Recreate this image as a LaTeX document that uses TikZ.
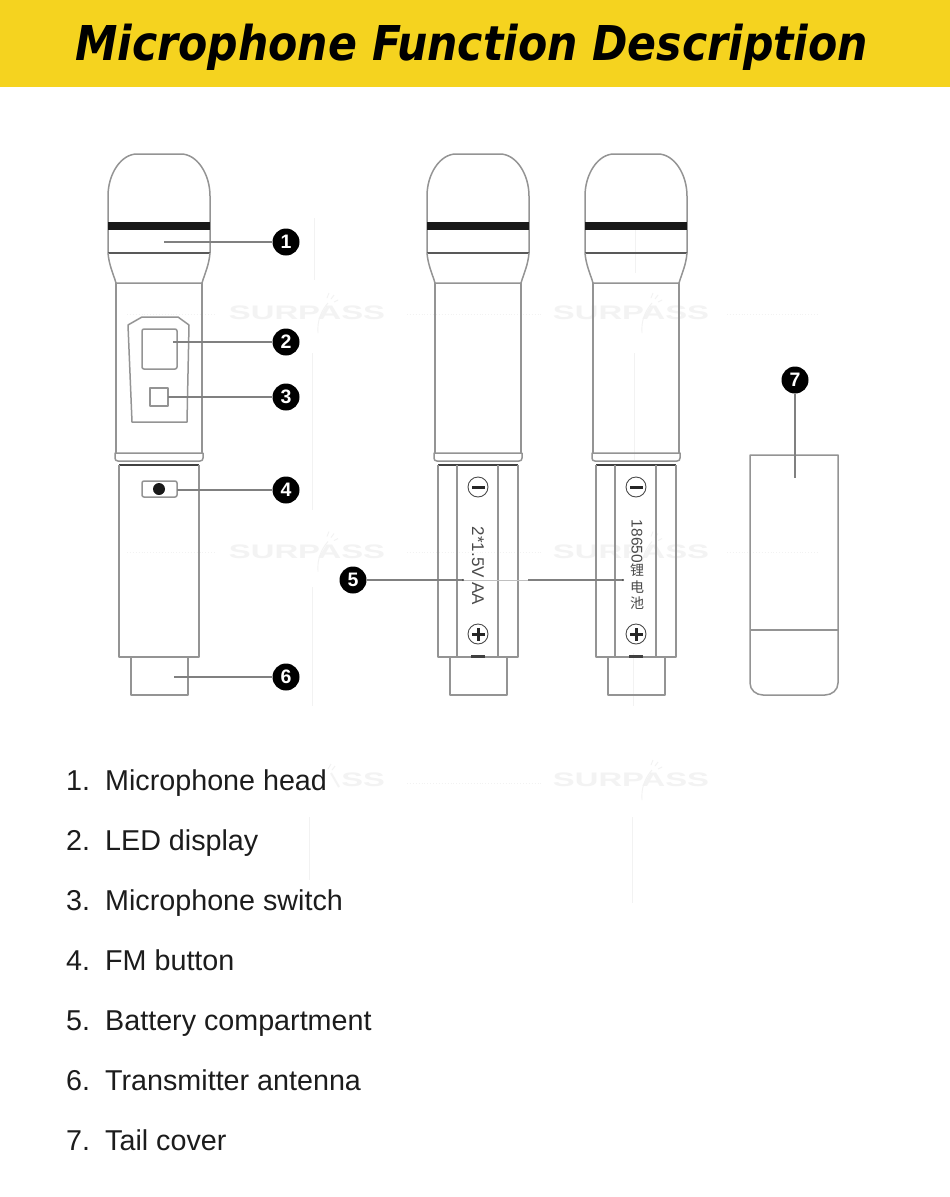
\documentclass[tikz,border=0pt]{standalone}
\usepackage{fontspec}
\usepackage{graphicx}
\setmainfont{Liberation Sans}
\newfontfamily\titlefont{DejaVu Sans}
\newfontfamily\cjk{Noto Sans CJK SC}
\definecolor{banner}{HTML}{F5D31F}
\definecolor{linegray}{HTML}{949494}
\definecolor{leadgray}{HTML}{808080}
\definecolor{markgray}{HTML}{F3F3F3}
\definecolor{faintgray}{HTML}{F2F2F2}
\definecolor{listblack}{HTML}{1C1C1C}
\definecolor{printgray}{HTML}{4A4A4A}
\tikzset{
  x=1pt,y=-1pt,
  outline/.style={draw=linegray,line width=1.5pt,line join=round},
  leadline/.style={draw=leadgray,line width=1.1pt},
  faintline/.style={draw=faintgray,line width=0.9pt},
  callout/.style={circle,fill=black,text=white,minimum size=27pt,inner sep=0pt,font=\fontsize{19.5}{20}\selectfont\bfseries},
  listnum/.style={anchor=base west,inner sep=0pt,text=listblack,font=\fontsize{28.7}{30}\selectfont},
  marktext/.style={text=markgray,inner sep=0pt,font=\fontsize{19.5}{20}\selectfont\bfseries},
  micupper/.pic={
    \draw[outline] (-51,253) -- (-51,196) .. controls (-51,174) and (-38,154) .. (-22,154) -- (22,154) .. controls (38,154) and (51,174) .. (51,196) -- (51,253);
    \fill[black!90] (-51,222) rectangle (51,230);
    \draw[draw=black!65,line width=1.5pt] (-51,253) -- (51,253);
    \draw[outline] (-51,253) .. controls (-50,265) and (-46,273) .. (-43,283) -- (43,283) .. controls (46,273) and (50,265) .. (51,253);
    \draw[outline] (-43,283) -- (-43,453);
    \draw[outline] (43,283) -- (43,453);
    \draw[outline] (-44,453) -- (44,453) -- (44,458) .. controls (44,460) and (43,461) .. (41,461) -- (-41,461) .. controls (-43,461) and (-44,460) .. (-44,458) -- cycle;
    \draw[draw=black!75,line width=1.5pt] (-40,465) -- (40,465);
    \draw[outline] (-40,465) -- (-40,657) -- (40,657) -- (40,465);
    \draw[outline] (-28,657) -- (-28,695) -- (29,695) -- (29,657);
  },
  batterybay/.pic={
    \draw[outline,line width=1.3pt] (-21,465) -- (-21,657);
    \draw[outline,line width=1.3pt] (20,465) -- (20,657);
    \draw[draw=printgray,line width=0.9pt] (0,487) circle [radius=10];
    \fill[black!85] (-6.5,485.5) rectangle (6.5,488.5);
    \draw[draw=printgray,line width=0.9pt] (0,634) circle [radius=10];
    \fill[black!85] (-6.5,632.5) rectangle (6.5,635.5);
    \fill[black!85] (-1.5,627.5) rectangle (1.5,640.5);
    \fill[black!75] (-7,655) rectangle (7,657.5);
  },
  watermark/.pic={
    \node[marktext] at (0,0) {\resizebox{156pt}{\height}{SURPASS}};
    \draw[faintline] (21,-10) .. controls (14,-2) and (10,8) .. (11,20);
    \draw[faintline] (20,-15) -- (22,-20) (24,-14) -- (27,-18) (27,-11) -- (31,-13);
  }
}
\begin{document}
\begin{tikzpicture}
\useasboundingbox (0,0) rectangle (950,1197);
\fill[white] (0,0) rectangle (950,1197);
\fill[banner] (0,0) rectangle (950,87);
\node[anchor=base west,inner sep=0pt,font=\titlefont\fontsize{48}{50}\selectfont\bfseries\itshape] (title) at (75,60) {\resizebox{793pt}{\height}{Microphone Function Description}};

% faint background marks
\foreach \py in {313,551.5}{
  \pic at (307,\py) {watermark};
  \pic at (631,\py) {watermark};
  \draw[faintline,dotted] (127,\py+1) -- (215,\py+1);
  \draw[faintline,dotted] (407,\py+1) -- (541,\py+1);
  \draw[faintline,dotted] (727,\py+1) -- (818,\py+1);
}
\node[marktext] (partmark) at (363,780) {\resizebox{43.5pt}{\height}{SS}};
\draw[draw=markgray,line width=2pt] (331,773) -- (339,787);
\draw[faintline] (328,769) -- (331,764) (332,770) -- (335,766);
\pic at (631,780) {watermark};
\draw[faintline,dotted] (407,783) -- (541,783);
\draw[faintline] (314,218) -- (314,280) (312,353) -- (312,510) (312,587) -- (312,706) (309,817) -- (309,880);
\draw[faintline] (635,223) -- (635,273) (634,353) -- (634,460) (633,653) -- (633,706) (632,817) -- (632,903);

% microphones
\pic at (159,0) {micupper};
\pic at (478,0) {micupper};
\pic at (636,0) {micupper};
\pic at (478,0) {batterybay};
\pic at (636,0) {batterybay};

% panel of first microphone
\draw[outline] (128,325) -- (142,317) -- (178,317) -- (189,325) -- (187,422) -- (132,422) -- cycle;
\draw[outline,rounded corners=2pt] (142,329) rectangle (177,369);
\draw[outline] (150,388) rectangle (168,406);
\draw[outline,rounded corners=2pt] (142,481) rectangle (177,497);
\fill[black!90] (159,489) circle [radius=6];

% printed battery labels
\node[rotate=-90,inner sep=0pt,text=printgray,font=\fontsize{17}{17}\selectfont] (aalabel) at (478,566) {2*1.5V AA};
\node[rotate=-90,inner sep=0pt,text=printgray,font=\fontsize{15.5}{16}\selectfont] (numlabel) at (637,541.5) {18650};
\node[inner sep=0pt,align=center,text=printgray,font=\cjk\fontsize{14}{16.5}\selectfont] (cjklabel) at (637,587) {锂\\电\\池};

% tail cover
\draw[outline] (750,455) -- (838,455) -- (838,683) .. controls (838,690) and (832,695) .. (825,695) -- (763,695) .. controls (756,695) and (750,690) .. (750,683) -- cycle;
\draw[outline] (750,630) -- (838,630);

% callouts
\node[callout] (n1) at (286,242) {1};
\node[callout] (n2) at (286,342) {2};
\node[callout] (n3) at (286,397) {3};
\node[callout] (n4) at (286,490) {4};
\node[callout] (n5) at (353,580) {5};
\node[callout] (n6) at (286,677) {6};
\node[callout] (n7) at (795,380) {7};
\coordinate (e1) at (164,242);
\coordinate (e2) at (173,342);
\coordinate (e3) at (168,397);
\coordinate (e4) at (177,490);
\coordinate (e5a) at (463,580);
\coordinate (e5b) at (528,580);
\coordinate (e5c) at (623,580);
\coordinate (e6) at (174,677);
\coordinate (e7) at (795,478);
\draw[leadline] (n1) -- (e1);
\draw[leadline] (n2) -- (e2);
\draw[leadline] (n3) -- (e3);
\draw[leadline] (n4) -- (e4);
\draw[leadline] (n5) -- (e5a);
\draw[draw=black!25,line width=1pt] (e5a) -- (e5b);
\draw[leadline] (e5b) -- (e5c);
\fill[black!70] (e5a) circle [radius=1.2] (e5c) circle [radius=1.2];
\draw[leadline] (n6) -- (e6);
\draw[leadline,line width=1.3pt] (n7) -- (e7);

% list
\node[listnum] (l1) at (66,790) {1.};
\node[listnum] (t1) at (105,790) {Microphone head};
\node[listnum] (l2) at (66,850) {2.};
\node[listnum] (t2) at (105,850) {LED display};
\node[listnum] (l3) at (66,910) {3.};
\node[listnum] (t3) at (105,910) {Microphone switch};
\node[listnum] (l4) at (66,970) {4.};
\node[listnum] (t4) at (105,970) {FM button};
\node[listnum] (l5) at (66,1030) {5.};
\node[listnum] (t5) at (105,1030) {Battery compartment};
\node[listnum] (l6) at (66,1090) {6.};
\node[listnum] (t6) at (105,1090) {Transmitter antenna};
\node[listnum] (l7) at (66,1150) {7.};
\node[listnum] (t7) at (105,1150) {Tail cover};
\end{tikzpicture}
\end{document}
